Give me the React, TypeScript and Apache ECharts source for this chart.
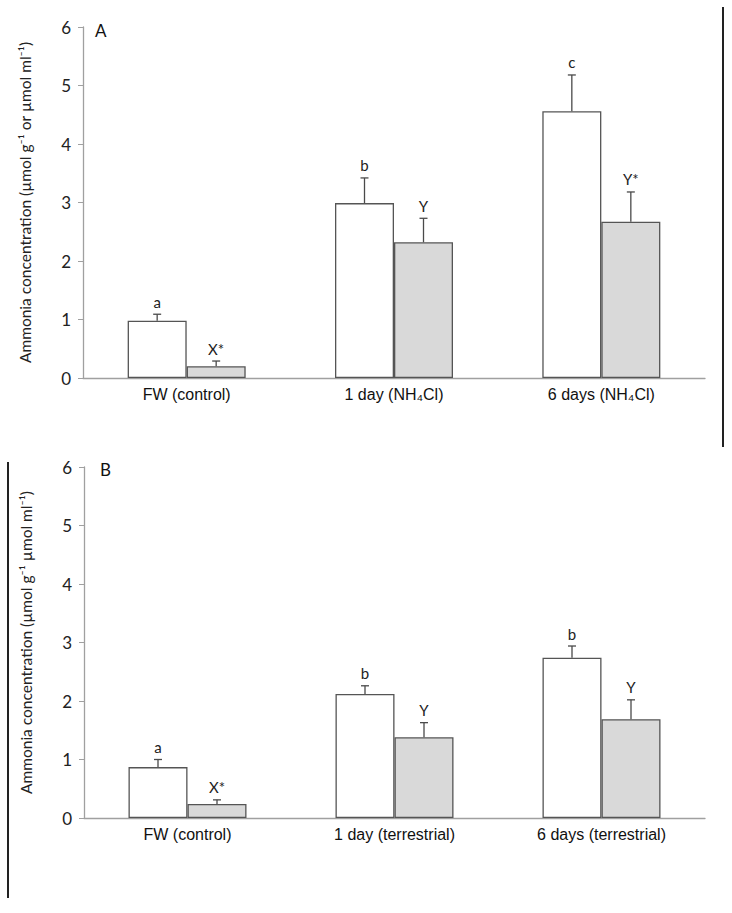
import React, { useEffect, useRef } from "react";
import * as echarts from "echarts";

const categoriesA = ["FW (control)", "1 day (NH₄Cl)", "6 days (NH₄Cl)"];
const categoriesB = ["FW (control)", "1 day (terrestrial)", "6 days (terrestrial)"];

const whiteA = [0.98, 2.99, 4.56];
const whiteErrA = [0.11, 0.43, 0.62];
const grayA = [0.2, 2.32, 2.67];
const grayErrA = [0.09, 0.41, 0.51];
const whiteLabelsA = ["a", "b", "c"];
const grayLabelsA = ["X*", "Y", "Y*"];

const whiteB = [0.87, 2.12, 2.74];
const whiteErrB = [0.13, 0.14, 0.2];
const grayB = [0.24, 1.38, 1.69];
const grayErrB = [0.07, 0.25, 0.33];
const whiteLabelsB = ["a", "b", "b"];
const grayLabelsB = ["X*", "Y", "Y"];

const yTicks = [0, 1, 2, 3, 4, 5, 6];
const titleA = "Ammonia concentration (µmol g⁻¹ or µmol ml⁻¹)";
const titleB = "Ammonia concentration (µmol g⁻¹ µmol ml⁻¹)";

const BAR_W = 59;
const SANS = "Lato, 'Open Sans', sans-serif";
const ARIAL = "'Liberation Sans', Arial, sans-serif";

function errSeries(gridIdx: number, vals: number[], errs: number[], labels: string[], offset: number) {
  return {
    type: "custom",
    xAxisIndex: gridIdx,
    yAxisIndex: gridIdx,
    z: 5,
    data: vals.map((v, i) => [i, v, errs[i]]),
    renderItem: (params: any, api: any) => {
      const idx = api.value(0);
      const v = api.value(1);
      const e = api.value(2);
      const base = api.coord([idx, v]);
      const top = api.coord([idx, v + e]);
      const x = base[0] + offset;
      const st = { stroke: "#4a4a4a", lineWidth: 1.3 };
      return {
        type: "group",
        children: [
          { type: "line", shape: { x1: x, y1: base[1], x2: x, y2: top[1] }, style: st },
          { type: "line", shape: { x1: x - 4, y1: top[1], x2: x + 4, y2: top[1] }, style: st },
          {
            type: "text",
            x: x,
            y: top[1] - 5,
            style: {
              text: labels[params.dataIndex],
              textAlign: "center",
              textVerticalAlign: "bottom",
              fontFamily: SANS,
              fontSize: 15,
              fill: "#222",
            },
          },
        ],
      };
    },
  };
}

function barSeries(gridIdx: number, vals: number[], color: string) {
  return {
    type: "bar",
    xAxisIndex: gridIdx,
    yAxisIndex: gridIdx,
    barWidth: BAR_W,
    barGap: "0%",
    data: vals,
    itemStyle: { color, borderColor: "#555", borderWidth: 1.3 },
  };
}

export default function App() {
  const ref = useRef<HTMLDivElement>(null);
  useEffect(() => {
    if (!ref.current) return;
    const chart = echarts.init(ref.current, null, { renderer: "svg" });
    const xAxisCommon = {
      type: "category",
      axisTick: { show: false },
      axisLine: { lineStyle: { color: "#a0a0a0", width: 1.3 } },
      axisLabel: { fontFamily: ARIAL, fontSize: 16, color: "#111", margin: 8 },
    };
    const yAxisCommon = (name: string) => ({
      type: "value",
      min: 0,
      max: 6,
      interval: 1,
      splitLine: { show: false },
      axisLine: { show: true, lineStyle: { color: "#a0a0a0", width: 1.3 } },
      axisTick: { show: true, length: 5, lineStyle: { color: "#a0a0a0" } },
      axisLabel: {
        fontFamily: SANS,
        fontSize: 17,
        color: "#222",
        margin: 12,
        formatter: (v: number) => (yTicks.includes(v) ? String(v) : ""),
      },
      name,
      nameLocation: "middle",
      nameGap: 50,
      nameTextStyle: { fontFamily: SANS, fontSize: 15.5, color: "#222" },
    });
    chart.setOption({
      animation: false,
      backgroundColor: "#fff",
      grid: [
        { left: 83, top: 27, width: 622, height: 351 },
        { left: 84, top: 467, width: 621, height: 351 },
      ],
      xAxis: [
        { ...xAxisCommon, gridIndex: 0, data: categoriesA },
        { ...xAxisCommon, gridIndex: 1, data: categoriesB },
      ],
      yAxis: [
        { ...yAxisCommon(titleA), gridIndex: 0 },
        { ...yAxisCommon(titleB), gridIndex: 1 },
      ],
      series: [
        barSeries(0, whiteA, "#ffffff"),
        barSeries(0, grayA, "#d9d9d9"),
        errSeries(0, whiteA, whiteErrA, whiteLabelsA, -BAR_W / 2),
        errSeries(0, grayA, grayErrA, grayLabelsA, BAR_W / 2),
        barSeries(1, whiteB, "#ffffff"),
        barSeries(1, grayB, "#d9d9d9"),
        errSeries(1, whiteB, whiteErrB, whiteLabelsB, -BAR_W / 2),
        errSeries(1, grayB, grayErrB, grayLabelsB, BAR_W / 2),
      ],
      graphic: [
        { type: "text", left: 95, top: 22, style: { text: "A", fontFamily: SANS, fontSize: 17, fill: "#111" } },
        { type: "text", left: 100, top: 461, style: { text: "B", fontFamily: SANS, fontSize: 17, fill: "#111" } },
        { type: "line", shape: { x1: 723, y1: 7, x2: 723, y2: 447 }, style: { stroke: "#222", lineWidth: 2 } },
        { type: "line", shape: { x1: 8, y1: 462, x2: 8, y2: 898 }, style: { stroke: "#222", lineWidth: 2 } },
      ],
    });
    return () => chart.dispose();
  }, []);
  return (
    <div
      ref={ref}
      style={{ position: "fixed", left: 0, top: 0, width: 732, height: 913, background: "#fff" }}
    />
  );
}
